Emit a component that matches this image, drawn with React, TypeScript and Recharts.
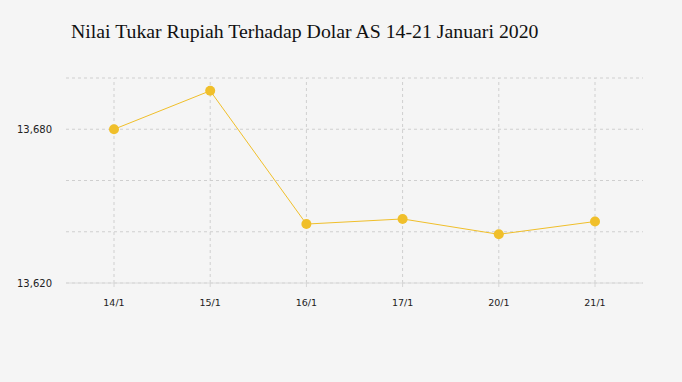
import { LineChart, Line, XAxis, YAxis, CartesianGrid, ReferenceLine } from 'recharts'

const DATES = ['14/1', '15/1', '16/1', '17/1', '20/1', '21/1']
const KURS = [13680, 13695, 13643, 13645, 13639, 13644]
const Y_TICKS = [13620, 13640, 13660, 13680, 13700]
const Y_LABELED = [13620, 13680]

const data = DATES.map((d, i) => ({ date: d, kurs: KURS[i] }))

const LINE_COLOR = '#f0bf2a'
const GRID = '#cfcfcf'

export default function App() {
  return (
    <div
      style={{
        position: 'fixed',
        top: 0,
        left: 0,
        width: 682,
        height: 382,
        background: '#f5f5f5',
      }}
    >
      <div
        style={{
          position: 'absolute',
          left: 71,
          top: 20,
          fontFamily: '"Liberation Serif", "Times New Roman", serif',
          fontSize: 19.8,
          color: '#111',
          whiteSpace: 'nowrap',
        }}
      >
        Nilai Tukar Rupiah Terhadap Dolar AS 14-21 Januari 2020
      </div>
      <LineChart
        width={682}
        height={382}
        data={data}
        margin={{ top: 78, right: 39, left: 0, bottom: 69 }}
      >
        <CartesianGrid strokeDasharray="3 3" stroke={GRID} vertical={false} />
        {DATES.map((d) => (
          <ReferenceLine key={d} x={d} stroke={GRID} strokeDasharray="3 3" />
        ))}
        <XAxis
          dataKey="date"
          padding={{ left: 48, right: 48 }}
          height={30}
          tick={{ fontSize: 9.5, fill: '#222', fontFamily: '"DejaVu Sans", Verdana, sans-serif' }}
          tickSize={4}
          tickMargin={12}
          tickLine={{ stroke: '#d6d6d6' }}
          axisLine={{ stroke: '#dcdcdc' }}
        />
        <YAxis
          width={66}
          domain={[13620, 13700]}
          ticks={Y_TICKS}
          interval={0}
          tickFormatter={(v: number) => (Y_LABELED.includes(v) ? v.toLocaleString('en-US') : '')}
          tick={{ fontSize: 10, fill: '#222', fontFamily: '"DejaVu Sans", Verdana, sans-serif' }}
          tickSize={0}
          tickMargin={14}
          axisLine={false}
          tickLine={false}
        />
        <Line
          type="linear"
          dataKey="kurs"
          stroke={LINE_COLOR}
          strokeWidth={1}
          dot={{ r: 5, fill: LINE_COLOR, stroke: LINE_COLOR, strokeWidth: 0 }}
          isAnimationActive={false}
        />
      </LineChart>
    </div>
  )
}
